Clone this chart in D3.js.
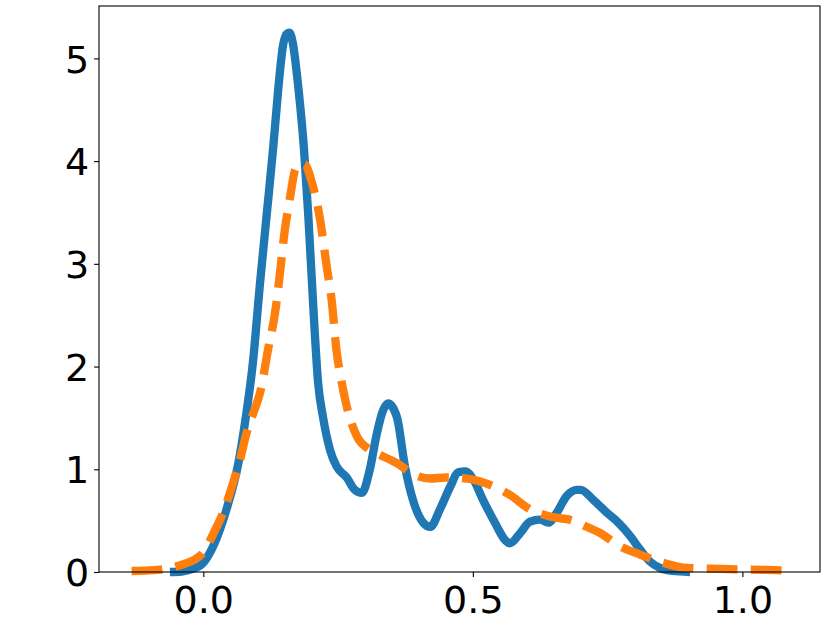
<!DOCTYPE html>
<html>
<head>
    <style>
        body { margin: 0; background: #fff; }
        svg { display: block; }
        .tick text { font-family: "DejaVu Sans", sans-serif; }
    </style>
</head>
<body>
    <svg width="830" height="623"></svg>

    <script src="https://d3js.org/d3.v7.min.js"></script>
    <script>
        // Blue density curve (solid)
        const blueX = [-0.062, -0.04, -0.02, 0.0, 0.02, 0.043, 0.065, 0.08, 0.092, 0.105, 0.118, 0.13, 0.139, 0.148, 0.155, 0.160, 0.166, 0.176, 0.187, 0.195, 0.205, 0.213, 0.222, 0.235, 0.247, 0.266, 0.281, 0.294, 0.309, 0.322, 0.334, 0.343, 0.359, 0.374, 0.389, 0.408, 0.421, 0.439, 0.458, 0.473, 0.486, 0.501, 0.519, 0.541, 0.560, 0.569, 0.588, 0.606, 0.625, 0.640, 0.656, 0.674, 0.693, 0.70, 0.724, 0.748, 0.770, 0.792, 0.810, 0.829, 0.847, 0.870, 0.903];
        const blueY = [0.0, 0.005, 0.03, 0.09, 0.27, 0.61, 1.06, 1.55, 2.04, 2.80, 3.50, 4.15, 4.70, 5.13, 5.24, 5.25, 5.15, 4.73, 4.10, 3.45, 2.49, 1.84, 1.51, 1.19, 1.03, 0.92, 0.80, 0.77, 1.0, 1.35, 1.58, 1.64, 1.51, 1.03, 0.70, 0.48, 0.44, 0.61, 0.83, 0.97, 0.98, 0.90, 0.70, 0.48, 0.31, 0.28, 0.38, 0.49, 0.51, 0.48, 0.58, 0.74, 0.80, 0.80, 0.70, 0.58, 0.48, 0.35, 0.22, 0.10, 0.04, 0.01, 0.0];

        // Orange density curve (dashed)
        const orangeX = [-0.133, -0.10, -0.07, -0.04, -0.02, 0.0, 0.022, 0.037, 0.053, 0.068, 0.08, 0.093, 0.105, 0.121, 0.133, 0.142, 0.150, 0.161, 0.170, 0.180, 0.188, 0.201, 0.216, 0.229, 0.238, 0.247, 0.257, 0.269, 0.285, 0.309, 0.328, 0.359, 0.390, 0.421, 0.45, 0.489, 0.526, 0.569, 0.606, 0.643, 0.686, 0.711, 0.736, 0.773, 0.810, 0.853, 0.897, 0.959, 1.045, 1.083];
        const orangeY = [0.01, 0.015, 0.03, 0.07, 0.11, 0.19, 0.41, 0.58, 0.83, 1.09, 1.35, 1.55, 1.74, 2.19, 2.52, 2.90, 3.28, 3.65, 3.91, 3.98, 3.97, 3.80, 3.45, 2.97, 2.65, 2.16, 1.84, 1.55, 1.32, 1.19, 1.14, 1.06, 0.95, 0.91, 0.92, 0.91, 0.86, 0.75, 0.61, 0.54, 0.50, 0.44, 0.38, 0.25, 0.17, 0.09, 0.04, 0.03, 0.02, 0.015];

        const xTicks = [0.0, 0.5, 1.0];
        const yTicks = [0, 1, 2, 3, 4, 5];

        const svg = d3.select("svg"),
              margin = {top: 6, right: 10, bottom: 51, left: 99},
              width = +svg.attr("width") - margin.left - margin.right,
              height = +svg.attr("height") - margin.top - margin.bottom;

        const g = svg.append("g").attr("transform", `translate(${margin.left},${margin.top})`);

        const x = d3.scaleLinear().domain([-0.1935, 1.144]).range([0, width]);
        const y = d3.scaleLinear().domain([0, 5.51]).range([height, 0]);

        const line = d3.line()
            .x(d => x(d[0]))
            .y(d => y(d[1]))
            .curve(d3.curveMonotoneX);

        const blue = blueX.map((v, i) => [v, blueY[i]]);
        const orange = orangeX.map((v, i) => [v, orangeY[i]]);

        g.append("path")
            .datum(blue)
            .attr("fill", "none")
            .attr("stroke", "#1f77b4")
            .attr("stroke-width", 8.33)
            .attr("stroke-linejoin", "round")
            .attr("d", line);

        g.append("path")
            .datum(orange)
            .attr("fill", "none")
            .attr("stroke", "#ff7f0e")
            .attr("stroke-width", 8.33)
            .attr("stroke-dasharray", "30.8 13.3")
            .attr("d", line);

        // Axes
        const xAxis = g.append("g")
            .attr("transform", `translate(0,${height})`)
            .call(d3.axisBottom(x).tickValues(xTicks).tickFormat(d3.format(".1f")).tickSizeOuter(0).tickSize(4.9).tickPadding(6));
        const yAxis = g.append("g")
            .call(d3.axisLeft(y).tickValues(yTicks).tickFormat(d3.format("d")).tickSizeOuter(0).tickSize(4.9).tickPadding(5));

        [xAxis, yAxis].forEach(a => {
            a.select(".domain").remove();
            a.selectAll(".tick line").attr("stroke", "#000").attr("stroke-width", 1.1);
            a.selectAll(".tick text").attr("font-size", 38).attr("fill", "#000");
        });
        xAxis.selectAll(".tick text").attr("dy", "0.8em");
        yAxis.selectAll(".tick text").attr("dy", "0.36em");

        // Frame
        g.append("rect")
            .attr("width", width)
            .attr("height", height)
            .attr("fill", "none")
            .attr("stroke", "#000")
            .attr("stroke-width", 1.1);
    </script>
</body>
</html>
